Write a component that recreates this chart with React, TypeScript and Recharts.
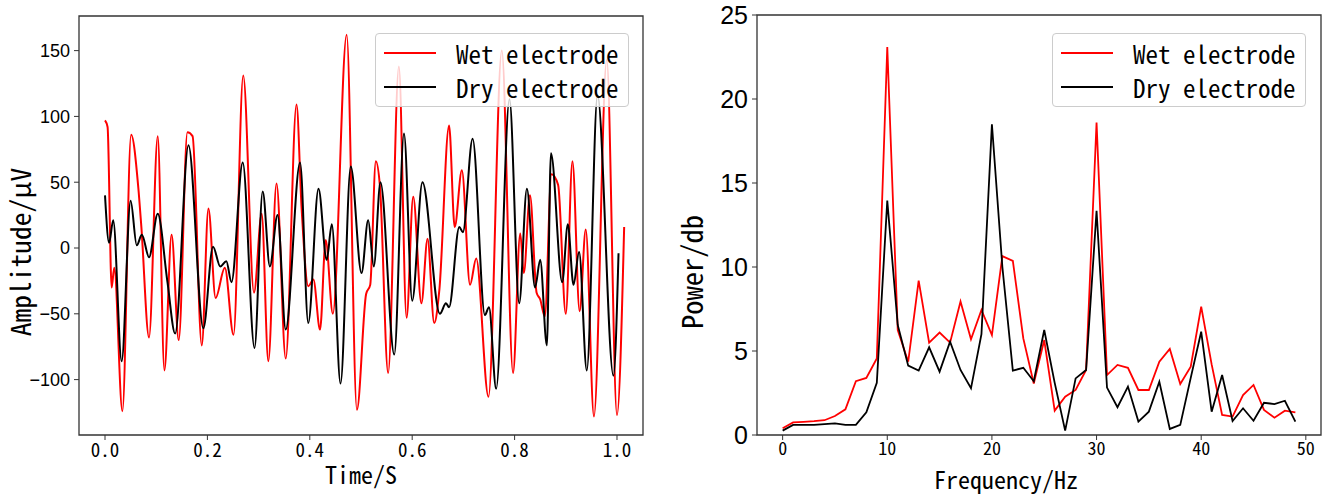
import { LineChart, Line, XAxis, YAxis, Legend, ReferenceArea } from 'recharts';

const MONO = "'Noto Sans Mono CJK SC', 'DejaVu Sans Mono', monospace";
const SANS = "'Liberation Sans', Arial, sans-serif";

// left panel: raw signal at its peaks and troughs
const wetTime = [
  0, 0.005, 0.013, 0.018, 0.034, 0.051, 0.065, 0.071, 0.086, 0.103, 0.116, 0.13, 0.144, 0.161, 0.171,
  0.189, 0.202, 0.216, 0.234, 0.251, 0.27, 0.291, 0.306, 0.319, 0.335, 0.353, 0.374, 0.384, 0.397,
  0.407, 0.42, 0.431, 0.445, 0.472, 0.492, 0.51, 0.518, 0.529, 0.537, 0.553, 0.574, 0.589, 0.602,
  0.618, 0.63, 0.643, 0.653, 0.672, 0.683, 0.697, 0.713, 0.725, 0.749, 0.775, 0.797, 0.811, 0.818,
  0.83, 0.843, 0.85, 0.859, 0.872, 0.885, 0.9, 0.913, 0.927, 0.939, 0.955, 0.98, 1.0, 1.014,
];
const wetAmp = [
  97, 92, -30, -15, -124, 86, 46, 16, -68, 85, -93, 10, -70, 88, 85,
  -74, 30, -38, -15, -66, 131, -34, 26, -86, 49, -84, 109, 30, -29,
  -24, -62, 6, -50, 162, -123, -35, -28, 66, 47, -95, 138, -53, 39,
  -42, 7, -57, -32, 93, 16, 59, -28, -8, -113, 150, -95, 11, -19,
  40, -34, -39, -52, 56, 48, -50, 66, -48, 14, -128, 143, -127, 16,
];
const dryTime = [
  0, 0.008, 0.016, 0.0325, 0.05, 0.062, 0.072, 0.086, 0.103, 0.122, 0.137, 0.163, 0.192, 0.211,
  0.225, 0.237, 0.247, 0.269, 0.292, 0.308, 0.322, 0.337, 0.353, 0.381, 0.397, 0.417, 0.433, 0.443,
  0.46, 0.48, 0.501, 0.514, 0.525, 0.538, 0.565, 0.584, 0.6, 0.62, 0.654, 0.666, 0.672, 0.692,
  0.699, 0.718, 0.742, 0.75, 0.764, 0.79, 0.809, 0.824, 0.84, 0.85, 0.863, 0.871, 0.893, 0.904,
  0.915, 0.926, 0.941, 0.962, 0.993, 1.003,
];
const dryAmp = [
  40, 4, 21, -86, 36, 2, 10, -7, 26, -26, -65, 78, -61, 1,
  -14, -10, -26, 65, -76, 43, -14, 25, -62, 65, -57, 45, -9, 18,
  -103, 62, -19, 21, -14, 50, -81, 87, -40, 50, -50, -42, -45, 16,
  12, 83, -51, -45, -107, 113, -42, 45, -30, -9, -74, 72, -26, 18,
  -28, -3, -93, 116, -97, -4,
];
const timeTicks = [0, 0.2, 0.4, 0.6, 0.8, 1.0];
const ampTicks = [-100, -50, 0, 50, 100, 150];

// right panel: power spectrum
const freqHz = [
  0, 1, 2, 3, 4, 5, 6, 7, 8, 9, 10, 11, 12, 13, 14, 15, 16, 17, 18, 19, 20, 21, 22, 23, 24,
  25, 26, 27, 28, 29, 30, 31, 32, 33, 34, 35, 36, 37, 38, 39, 40, 41, 42, 43, 44, 45, 46, 47, 48, 49,
];
const wetPower = [
  0.4, 0.75, 0.78, 0.82, 0.88, 1.13, 1.53, 3.2, 3.4, 4.56,
  23.1, 6.25, 4.36, 9.19, 5.5, 6.1, 5.5, 7.94, 5.7, 7.44,
  5.95, 10.65, 10.36, 5.75, 3.07, 5.65, 1.45, 2.28, 2.68, 3.87,
  18.6, 3.57, 4.17, 4.0, 2.68, 2.68, 4.36, 5.12, 3.04, 4.07,
  7.64, 4.2, 1.19, 1.1, 2.38, 2.98, 1.49, 1.03, 1.45, 1.35,
];
const dryPower = [
  0.26, 0.6, 0.6, 0.6, 0.65, 0.69, 0.6, 0.6, 1.35, 3.1,
  13.95, 6.55, 4.13, 3.83, 5.22, 3.77, 5.56, 3.87, 2.78, 6.0,
  18.5, 10, 3.83, 4.0, 3.2, 6.25, 3.1, 0.26, 3.37, 3.87,
  13.35, 2.82, 1.65, 2.88, 0.8, 1.39, 3.17, 0.36, 0.6, 3.4,
  6.15, 1.39, 3.57, 0.83, 1.59, 0.85, 1.92, 1.84, 2.04, 0.8,
];
const freqTicks = [0, 10, 20, 30, 40, 50];
const powerTicks = [0, 5, 10, 15, 20, 25];

const series = [
  { name: 'Wet electrode', color: '#ff0000' },
  { name: 'Dry electrode', color: '#000000' },
];

const zip = (xs: number[], ys: number[]) => xs.map((x, i) => ({ x, y: ys[i] }));

const wetSignal = zip(wetTime, wetAmp);
const drySignal = zip(dryTime, dryAmp);
const wetSpectrum = zip(freqHz, wetPower);
const drySpectrum = zip(freqHz, dryPower);

const minus = (v: number) => String(v).replace('-', '\u2212');

const monoTick = (size: number, digits: number, lift = 0.78) => (p: any) => (
  <text x={p.x} y={p.y} dy={size * lift} textAnchor="middle" fontFamily={MONO} fontSize={size} fill="#000">
    {Number(p.payload.value).toFixed(digits)}
  </text>
);

// x title, shifted from the axis centre by dx
const xTitle = (text: string, dx: number, size: number, bottom: number) => (p: any) => (
  <text
    x={p.viewBox.x + p.viewBox.width / 2 + dx}
    y={p.viewBox.y + p.viewBox.height - bottom}
    textAnchor="middle"
    fontFamily={MONO}
    fontSize={size}
    fill="#000"
  >
    {text}
  </text>
);

const yTitle = (text: string, dx: number, cy: number, size: number) => (p: any) => (
  <text
    x={p.viewBox.x + dx}
    y={cy}
    transform={`rotate(-90, ${p.viewBox.x + dx}, ${cy})`}
    textAnchor="middle"
    fontFamily={MONO}
    fontSize={size}
    fill="#000"
  >
    {text}
  </text>
);

const LegendBox = () => (
  <div
    style={{
      width: 254,
      height: 74,
      boxSizing: 'border-box',
      background: 'rgba(255,255,255,0.8)',
      border: '1px solid #cccccc',
      borderRadius: 4,
      paddingTop: 2,
    }}
  >
    {series.map((s) => (
      <div key={s.name} style={{ display: 'flex', alignItems: 'center', height: 34 }}>
        <div style={{ marginLeft: 8, width: 52, height: 2, background: s.color }} />
        <span style={{ marginLeft: 20, fontFamily: MONO, fontSize: 25, lineHeight: 1, color: '#000' }}>
          {s.name}
        </span>
      </div>
    ))}
  </div>
);

const axisColor = '#333333';

export default function App() {
  return (
    <div style={{ position: 'absolute', left: 0, top: 0, width: 1325, height: 496, display: 'flex', background: '#fff' }}>
      <LineChart width={662} height={496} margin={{ top: 16, right: 19, bottom: 0, left: 0 }}>
        <XAxis
          type="number"
          dataKey="x"
          domain={[-0.0508, 1.0508]}
          allowDataOverflow
          ticks={timeTicks}
          height={61}
          tickSize={5}
          axisLine={false}
          tickLine={{ stroke: axisColor }}
          tick={monoTick(19, 1)}
          label={xTitle('Time/S', 0, 24, 12)}
        />
        <YAxis
          type="number"
          dataKey="y"
          domain={[-142.1, 176.3]}
          allowDataOverflow
          ticks={ampTicks}
          width={79}
          tickSize={5}
          tickMargin={4}
          axisLine={false}
          tickLine={{ stroke: axisColor }}
          tick={{ fill: '#000', fontSize: 18, fontFamily: SANS }}
          tickFormatter={minus}
          label={yTitle('Amplitude/\u03bcV', 31, 252, 27.5)}
        />
        <ReferenceArea x1={-0.0508} x2={1.0508} y1={-142.1} y2={176.3} fill="none" stroke={axisColor} strokeWidth={1.3} />
        <Line data={wetSignal} dataKey="y" type="monotone" stroke={series[0].color} strokeWidth={2} dot={false} isAnimationActive={false} />
        <Line data={drySignal} dataKey="y" type="monotone" stroke={series[1].color} strokeWidth={2} dot={false} isAnimationActive={false} />
        <Legend layout="horizontal" verticalAlign="middle" align="center" content={LegendBox} wrapperStyle={{ left: 375, top: 33, width: 254 }} />
      </LineChart>
      <LineChart width={663} height={496} margin={{ top: 15, right: 4, bottom: 0, left: 0 }}>
        <XAxis
          type="number"
          dataKey="x"
          domain={[-2.45, 51.45]}
          allowDataOverflow
          ticks={freqTicks}
          height={61}
          tickSize={5}
          axisLine={false}
          tickLine={{ stroke: axisColor }}
          tick={monoTick(18, 0, 0.74)}
          label={xTitle('Frequency/Hz', -33, 24, 7.5)}
        />
        <YAxis
          type="number"
          dataKey="y"
          domain={[0, 25]}
          allowDataOverflow
          ticks={powerTicks}
          width={95}
          tickSize={5}
          tickMargin={4}
          axisLine={false}
          tickLine={{ stroke: axisColor }}
          tick={{ fill: '#000', fontSize: 25, fontFamily: SANS }}
          label={yTitle('Power/db', 41, 272, 28.5)}
        />
        <ReferenceArea x1={-2.45} x2={51.45} y1={0} y2={25} fill="none" stroke={axisColor} strokeWidth={1.3} />
        <Line data={wetSpectrum} dataKey="y" type="linear" stroke={series[0].color} strokeWidth={1.8} dot={false} isAnimationActive={false} />
        <Line data={drySpectrum} dataKey="y" type="linear" stroke={series[1].color} strokeWidth={1.8} dot={false} isAnimationActive={false} />
        <Legend layout="horizontal" verticalAlign="middle" align="center" content={LegendBox} wrapperStyle={{ left: 390, top: 33, width: 255 }} />
      </LineChart>
    </div>
  );
}
